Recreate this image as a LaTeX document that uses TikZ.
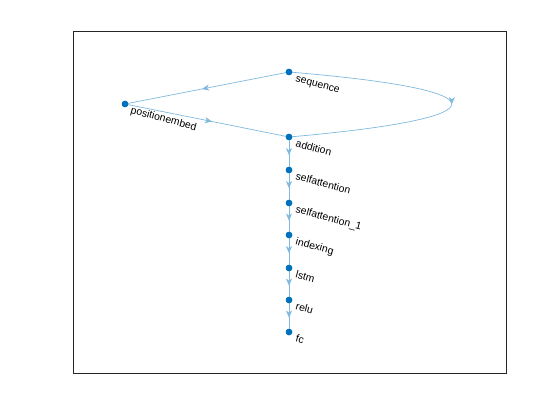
\documentclass[tikz,border=0pt]{standalone}
\usepackage{fontspec}
\setmainfont{Liberation Sans}
\usetikzlibrary{arrows.meta,decorations.markings}
\definecolor{edgec}{RGB}{128,185,224}
\definecolor{nodec}{RGB}{0,114,189}
\tikzset{
  gnode/.style={circle,fill=nodec,inner sep=0pt,minimum size=6.5pt},
  glabel/.style={anchor=base west,rotate=-15,inner sep=0pt,font=\fontsize{10.4}{12}\selectfont},
  gedge/.style={draw=edgec,line width=0.7pt,postaction={decorate},
    decoration={markings,mark=at position #1 with {\arrow{Stealth[length=7pt,width=6pt,inset=2pt,color=edgec]}}}},
  gedge/.default=0.5
}
\begin{document}
\begin{tikzpicture}[x=1pt,y=-1pt]
\useasboundingbox (0,0) rectangle (560,420);
\fill[white] (0,0) rectangle (560,420);
\draw[line width=0.6pt,black!85] (73,31) rectangle (506,373);
% nodes
\node[gnode] (seq) at (289,72) {};
\node[gnode] (pos) at (125,104) {};
\node[gnode] (add) at (289,137) {};
\node[gnode] (sa) at (289,170) {};
\node[gnode] (sa1) at (289,203) {};
\node[gnode] (idx) at (289,235) {};
\node[gnode] (lstm) at (289,268) {};
\node[gnode] (relu) at (289,300) {};
\node[gnode] (fc) at (289,332) {};
% edges
\path[gedge=0.53] (seq.center) -- (pos.center);
\path[gedge=0.53] (pos.center) -- (add.center);
\path[gedge=0.5] (seq.center) .. controls (506,90) and (506,118) .. (add.center);
\path[gedge=0.55] (add.center) -- (sa.center);
\path[gedge=0.55] (sa.center) -- (sa1.center);
\path[gedge=0.55] (sa1.center) -- (idx.center);
\path[gedge=0.55] (idx.center) -- (lstm.center);
\path[gedge=0.55] (lstm.center) -- (relu.center);
\path[gedge=0.55] (relu.center) -- (fc.center);
% redraw nodes on top
\foreach \n in {seq,pos,add,sa,sa1,idx,lstm,relu,fc}{\fill[nodec] (\n) circle (3.25pt);}
% labels
\node[glabel] (lseq) at ([shift={(6,9.5)}]seq.center) {sequence};
\node[glabel] (lpos) at ([shift={(5,9)}]pos.center) {positionembed};
\node[glabel] (ladd) at ([shift={(6,9.5)}]add.center) {addition};
\node[glabel] (lsa) at ([shift={(6,9.5)}]sa.center) {selfattention};
\node[glabel] (lsa1) at ([shift={(6,9.5)}]sa1.center) {selfattention\_1};
\node[glabel] (lidx) at ([shift={(6,9.5)}]idx.center) {indexing};
\node[glabel] (llstm) at ([shift={(6,9.5)}]lstm.center) {lstm};
\node[glabel] (lrelu) at ([shift={(6,9.5)}]relu.center) {relu};
\node[glabel] (lfc) at ([shift={(6,9.5)}]fc.center) {fc};
\end{tikzpicture}
\end{document}
